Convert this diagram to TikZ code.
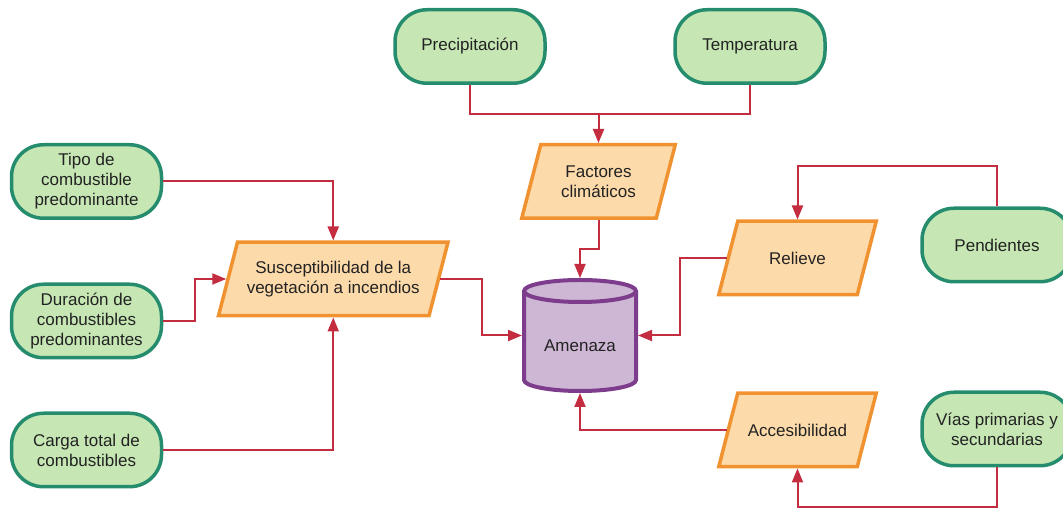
\documentclass[tikz,border=0pt]{standalone}
\usepackage{fontspec}
\setmainfont{Liberation Sans}
\usetikzlibrary{arrows.meta,calc,backgrounds}

\definecolor{termfill}{HTML}{C6E7B4}
\definecolor{termline}{HTML}{268C6E}
\definecolor{parafill}{HTML}{FDDAAA}
\definecolor{paraline}{HTML}{F0922F}
\definecolor{cylfill}{HTML}{CEB7D4}
\definecolor{cylline}{HTML}{7D3C8C}
\definecolor{linkcol}{HTML}{C42D40}
\definecolor{textcol}{HTML}{222222}

\tikzset{
  x=1pt, y=1pt,
  every node/.style={font=\fontsize{17}{20}\selectfont, text=textcol, align=center},
  term/.style={rectangle, rounded corners=32pt, draw=termline, fill=termfill,
    line width=3.5pt, minimum width=150pt, minimum height=73.5pt, inner sep=0pt},
  paraarea/.style={rectangle, minimum height=73.5pt, inner sep=0pt, outer sep=1.75pt},
  paraback/.style={draw=paraline, fill=parafill, line width=3.5pt, line join=miter},
  link/.style={draw=linkcol, line width=2pt, -{Triangle[length=14pt,width=11pt]}},
  plainlink/.style={draw=linkcol, line width=2pt},
}

% parallelogram drawn behind a rectangular text area
\newcommand\paragram[2][19]{%
  \begin{scope}[on background layer]
    \path[paraback]
      ($(#2.north west)+(0.5*#1+1.75,-1.75)$) -- ($(#2.north east)+(0.5*#1-1.75,-1.75)$) --
      ($(#2.south east)+(-0.5*#1-1.75,1.75)$) -- ($(#2.south west)+(-0.5*#1+1.75,1.75)$) -- cycle;
  \end{scope}}

\begin{document}
\begin{tikzpicture}
\useasboundingbox (0,0) rectangle (1063,510);

% climate inputs
\node[term] (prec) at (470,463.5) {Precipitación};
\node[term] (temp) at (750,463.5) {Temperatura};

% vegetation inputs
\node[term] (tipo) at (86.5,328.5) {Tipo de\\combustible\\predominante};
\node[term] (dura) at (86.5,189) {Duración de\\combustibles\\predominantes};
\node[term] (carga) at (86.5,60) {Carga total de\\combustibles};

% terrain and access inputs
\node[term] (pend) at (997,265) {Pendientes};
\node[term] (vias) at (997,81) {Vías primarias y\\secundarias};

% intermediate factors
\node[paraarea, minimum width=134.5pt] (fact) at (598.5,328.5) {Factores\\climáticos};
\node[paraarea, minimum width=210.5pt] (susc) at (333.25,231) {Susceptibilidad de la\\vegetación a incendios};
\node[paraarea, minimum width=138.5pt] (reli) at (797.5,252) {Relieve};
\node[paraarea, minimum width=138.5pt] (acce) at (797.5,80) {Accesibilidad};
\paragram{fact}
\paragram{susc}
\paragram{reli}
\paragram{acce}

% hazard cylinder
\node[rectangle, minimum width=112pt, minimum height=111pt, inner sep=0pt, outer sep=2pt,
      label={[yshift=-10pt]center:Amenaza}] (amen) at (580,174.5) {};
\begin{scope}[on background layer]
  \path[draw=cylline, fill=cylfill, line width=4pt]
    (524,219) -- (524,130) arc[start angle=180, end angle=360, x radius=56, y radius=11]
    -- (636,219) arc[start angle=0, end angle=180, x radius=56, y radius=11] -- cycle;
  \draw[cylline, line width=4pt] (524,219) arc[start angle=180, end angle=360, x radius=56, y radius=11];
\end{scope}

% connectors
\coordinate (clim) at (598.5,396);
\draw[plainlink] (prec.south) |- (clim);
\draw[plainlink] (temp.south) |- (clim);
\draw[link] (clim) -- (fact.north);

\draw[link] (tipo.east) -| (susc.north);
\draw[link] (dura.east) -- ++(32,0) |- (susc.west);
\draw[link] (carga.east) -| (susc.south);

\draw[link] (susc.east) -- ++(41.5,0) |- (amen.west);
\draw[link] (fact.south) -- ++(0,-29) -| (amen.north);
\draw[link] (reli.west) -- ++(-47,0) |- (amen.east);
\draw[link] (acce.west) -| (amen.south);

\draw[link] (pend.north) -- ++(0,40.5) -| (reli.north);
\draw[link] (vias.south) -- ++(0,-39.5) -| (acce.south);
\end{tikzpicture}
\end{document}
